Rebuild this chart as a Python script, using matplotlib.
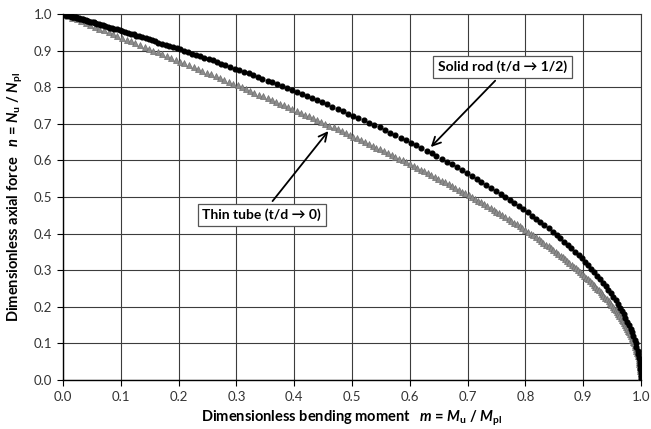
import numpy as np
import matplotlib
matplotlib.use('Agg')
import matplotlib.pyplot as plt

plt.rcParams['font.family'] = ['Lato', 'DejaVu Sans']
plt.rcParams['mathtext.fontset'] = 'custom'
plt.rcParams['mathtext.rm'] = 'Lato:bold'
plt.rcParams['mathtext.bf'] = 'Lato:bold'
plt.rcParams['mathtext.it'] = 'Lato:italic:bold'
plt.rcParams['mathtext.bfit'] = 'Lato:italic:bold'

# thin tube (t/d -> 0)
tube_m = [0.000, 0.008, 0.016, 0.024, 0.031, 0.039, 0.047, 0.055, 0.063, 0.071,
          0.079, 0.086, 0.094, 0.102, 0.110, 0.118, 0.125, 0.133, 0.141, 0.149,
          0.156, 0.164, 0.172, 0.180, 0.187, 0.195, 0.203, 0.210, 0.218, 0.226,
          0.233, 0.241, 0.249, 0.256, 0.264, 0.271, 0.279, 0.287, 0.294, 0.302,
          0.309, 0.316, 0.324, 0.331, 0.339, 0.346, 0.354, 0.361, 0.368, 0.375,
          0.383, 0.390, 0.397, 0.404, 0.412, 0.419, 0.426, 0.433, 0.440, 0.447,
          0.454, 0.461, 0.468, 0.475, 0.482, 0.489, 0.496, 0.502, 0.509, 0.516,
          0.523, 0.529, 0.536, 0.542, 0.549, 0.556, 0.562, 0.569, 0.575, 0.581,
          0.588, 0.594, 0.600, 0.607, 0.613, 0.619, 0.625, 0.631, 0.637, 0.643,
          0.649, 0.655, 0.661, 0.667, 0.673, 0.679, 0.685, 0.690, 0.696, 0.702,
          0.707, 0.713, 0.718, 0.724, 0.729, 0.734, 0.740, 0.745, 0.750, 0.755,
          0.760, 0.765, 0.771, 0.775, 0.780, 0.785, 0.790, 0.795, 0.800, 0.804,
          0.809, 0.814, 0.818, 0.823, 0.827, 0.831, 0.836, 0.840, 0.844, 0.848,
          0.853, 0.857, 0.861, 0.865, 0.869, 0.872, 0.876, 0.880, 0.884, 0.887,
          0.891, 0.895, 0.898, 0.901, 0.905, 0.908, 0.911, 0.915, 0.918, 0.921,
          0.924, 0.927, 0.930, 0.933, 0.935, 0.938, 0.941, 0.944, 0.946, 0.949,
          0.951, 0.953, 0.956, 0.958, 0.960, 0.962, 0.965, 0.967, 0.969, 0.971,
          0.972, 0.974, 0.976, 0.978, 0.979, 0.981, 0.982, 0.984, 0.985, 0.986,
          0.988, 0.989, 0.990, 0.991, 0.992, 0.993, 0.994, 0.995, 0.996, 0.996,
          0.997, 0.997, 0.998, 0.998, 0.999, 0.999, 1.000, 1.000, 1.000, 1.000,
          1.000]
tube_n = [1.000, 0.995, 0.990, 0.985, 0.980, 0.975, 0.970, 0.965, 0.960, 0.955,
          0.950, 0.945, 0.940, 0.935, 0.930, 0.925, 0.920, 0.915, 0.910, 0.905,
          0.900, 0.895, 0.890, 0.885, 0.880, 0.875, 0.870, 0.865, 0.860, 0.855,
          0.850, 0.845, 0.840, 0.835, 0.830, 0.825, 0.820, 0.815, 0.810, 0.805,
          0.800, 0.795, 0.790, 0.785, 0.780, 0.775, 0.770, 0.765, 0.760, 0.755,
          0.750, 0.745, 0.740, 0.735, 0.730, 0.725, 0.720, 0.715, 0.710, 0.705,
          0.700, 0.695, 0.690, 0.685, 0.680, 0.675, 0.670, 0.665, 0.660, 0.655,
          0.650, 0.645, 0.640, 0.635, 0.630, 0.625, 0.620, 0.615, 0.610, 0.605,
          0.600, 0.595, 0.590, 0.585, 0.580, 0.575, 0.570, 0.565, 0.560, 0.555,
          0.550, 0.545, 0.540, 0.535, 0.530, 0.525, 0.520, 0.515, 0.510, 0.505,
          0.500, 0.495, 0.490, 0.485, 0.480, 0.475, 0.470, 0.465, 0.460, 0.455,
          0.450, 0.445, 0.440, 0.435, 0.430, 0.425, 0.420, 0.415, 0.410, 0.405,
          0.400, 0.395, 0.390, 0.385, 0.380, 0.375, 0.370, 0.365, 0.360, 0.355,
          0.350, 0.345, 0.340, 0.335, 0.330, 0.325, 0.320, 0.315, 0.310, 0.305,
          0.300, 0.295, 0.290, 0.285, 0.280, 0.275, 0.270, 0.265, 0.260, 0.255,
          0.250, 0.245, 0.240, 0.235, 0.230, 0.225, 0.220, 0.215, 0.210, 0.205,
          0.200, 0.195, 0.190, 0.185, 0.180, 0.175, 0.170, 0.165, 0.160, 0.155,
          0.150, 0.145, 0.140, 0.135, 0.130, 0.125, 0.120, 0.115, 0.110, 0.105,
          0.100, 0.095, 0.090, 0.085, 0.080, 0.075, 0.070, 0.065, 0.060, 0.055,
          0.050, 0.045, 0.040, 0.035, 0.030, 0.025, 0.020, 0.015, 0.010, 0.005,
          0.000]

# solid rod (t/d -> 1/2)
rod_m = [0.000, 0.000, 0.000, 0.000, 0.000, 0.000, 0.000, 0.000, 0.000, 0.000,
         0.000, 0.001, 0.001, 0.001, 0.001, 0.002, 0.002, 0.002, 0.003, 0.003,
         0.004, 0.004, 0.005, 0.006, 0.007, 0.007, 0.008, 0.009, 0.010, 0.012,
         0.013, 0.014, 0.015, 0.017, 0.018, 0.020, 0.022, 0.024, 0.025, 0.027,
         0.030, 0.032, 0.034, 0.036, 0.039, 0.041, 0.044, 0.047, 0.050, 0.053,
         0.056, 0.059, 0.063, 0.066, 0.070, 0.073, 0.077, 0.081, 0.085, 0.089,
         0.094, 0.098, 0.102, 0.107, 0.112, 0.117, 0.122, 0.127, 0.132, 0.137,
         0.143, 0.148, 0.154, 0.160, 0.165, 0.171, 0.178, 0.184, 0.190, 0.197,
         0.203, 0.210, 0.216, 0.223, 0.230, 0.237, 0.244, 0.252, 0.259, 0.266,
         0.274, 0.281, 0.289, 0.297, 0.305, 0.313, 0.321, 0.329, 0.337, 0.345,
         0.354, 0.362, 0.370, 0.379, 0.387, 0.396, 0.405, 0.413, 0.422, 0.431,
         0.440, 0.448, 0.457, 0.466, 0.475, 0.484, 0.493, 0.502, 0.511, 0.520,
         0.529, 0.538, 0.548, 0.557, 0.566, 0.575, 0.584, 0.593, 0.602, 0.611,
         0.620, 0.629, 0.638, 0.646, 0.655, 0.664, 0.673, 0.682, 0.690, 0.699,
         0.707, 0.716, 0.724, 0.732, 0.741, 0.749, 0.757, 0.765, 0.773, 0.781,
         0.789, 0.796, 0.804, 0.811, 0.818, 0.826, 0.833, 0.840, 0.847, 0.854,
         0.860, 0.867, 0.873, 0.879, 0.886, 0.892, 0.898, 0.903, 0.909, 0.914,
         0.919, 0.924, 0.929, 0.934, 0.939, 0.943, 0.948, 0.952, 0.956, 0.960,
         0.964, 0.967, 0.970, 0.973, 0.976, 0.979, 0.982, 0.984, 0.987, 0.989,
         0.991, 0.992, 0.994, 0.995, 0.997, 0.998, 0.998, 0.999, 1.000, 1.000,
         1.000]
rod_n = [1.000, 1.000, 1.000, 1.000, 1.000, 1.000, 1.000, 1.000, 1.000, 1.000,
         1.000, 1.000, 1.000, 1.000, 0.999, 0.999, 0.999, 0.999, 0.999, 0.999,
         0.998, 0.998, 0.998, 0.998, 0.997, 0.997, 0.996, 0.996, 0.996, 0.995,
         0.995, 0.994, 0.993, 0.993, 0.992, 0.991, 0.991, 0.990, 0.989, 0.988,
         0.987, 0.986, 0.985, 0.984, 0.983, 0.982, 0.981, 0.979, 0.978, 0.977,
         0.975, 0.974, 0.972, 0.970, 0.969, 0.967, 0.965, 0.963, 0.962, 0.960,
         0.958, 0.955, 0.953, 0.951, 0.949, 0.946, 0.944, 0.941, 0.939, 0.936,
         0.934, 0.931, 0.928, 0.925, 0.922, 0.919, 0.916, 0.913, 0.910, 0.906,
         0.903, 0.899, 0.896, 0.892, 0.888, 0.885, 0.881, 0.877, 0.873, 0.869,
         0.864, 0.860, 0.856, 0.851, 0.847, 0.842, 0.838, 0.833, 0.828, 0.823,
         0.818, 0.813, 0.808, 0.803, 0.798, 0.792, 0.787, 0.781, 0.776, 0.770,
         0.764, 0.759, 0.753, 0.747, 0.741, 0.735, 0.728, 0.722, 0.716, 0.709,
         0.703, 0.696, 0.690, 0.683, 0.676, 0.669, 0.662, 0.655, 0.648, 0.641,
         0.634, 0.626, 0.619, 0.611, 0.604, 0.596, 0.589, 0.581, 0.573, 0.565,
         0.558, 0.550, 0.542, 0.533, 0.525, 0.517, 0.509, 0.500, 0.492, 0.484,
         0.475, 0.467, 0.458, 0.449, 0.441, 0.432, 0.423, 0.414, 0.405, 0.396,
         0.387, 0.378, 0.369, 0.360, 0.351, 0.341, 0.332, 0.323, 0.313, 0.304,
         0.295, 0.285, 0.276, 0.266, 0.256, 0.247, 0.237, 0.228, 0.218, 0.208,
         0.198, 0.189, 0.179, 0.169, 0.159, 0.149, 0.139, 0.130, 0.120, 0.110,
         0.100, 0.090, 0.080, 0.070, 0.060, 0.050, 0.040, 0.030, 0.020, 0.010,
         0.000]

ticks = [0.0, 0.1, 0.2, 0.3, 0.4, 0.5, 0.6, 0.7, 0.8, 0.9, 1.0]

fig = plt.figure(figsize=(6.51, 4.29), dpi=100)
ax = fig.add_axes([0.0968, 0.1142, 0.8878, 0.8532])

ax.plot(tube_m, tube_n, linestyle='none', marker='^', markersize=3.8,
        color='#8c8c8c', markeredgecolor='#6e6e6e', markeredgewidth=0.5, zorder=3)
ax.plot(rod_m, rod_n, linestyle='none', marker='o', markersize=3.4,
        color='black', zorder=4)

ax.set_xlim(0, 1)
ax.set_ylim(0, 1)
ax.set_xticks(ticks)
ax.set_yticks(ticks)
ax.set_xticklabels(['%.1f' % t for t in ticks])
ax.set_yticklabels(['%.1f' % t for t in ticks])
ax.grid(True, color='#3c3c3c', linewidth=0.8)
ax.set_axisbelow(True)
for s in ['top', 'right']:
    ax.spines[s].set_color('#3c3c3c')
    ax.spines[s].set_linewidth(0.8)
for s in ['left', 'bottom']:
    ax.spines[s].set_linewidth(1.0)
ax.tick_params(direction='out', length=4, width=0.8, labelsize=9.5,
               labelcolor='#333333', pad=4)

ax.set_xlabel(r'Dimensionless bending moment   $\mathit{m}$ = $\mathit{M}_\mathrm{u}$ / $\mathit{M}_\mathrm{pl}$',
              fontsize=10.5, fontweight='bold', labelpad=4)
ax.set_ylabel(r'Dimensionless axial force   $\mathit{n}$ = $\mathit{N}_\mathrm{u}$ / $\mathit{N}_\mathrm{pl}$',
              fontsize=10.5, fontweight='bold', labelpad=6)

box = dict(boxstyle='square,pad=0.35', facecolor='white', edgecolor='#555555', linewidth=0.9)
arrow = dict(arrowstyle='->,head_length=0.6,head_width=0.3', color='black', linewidth=1.3)

ax.annotate('Solid rod (t/d \u2192 1/2)', xy=(0.633, 0.631), xytext=(0.760, 0.855),
            ha='center', va='center', fontsize=10, fontweight='bold', bbox=box,
            arrowprops=dict(arrow, relpos=(0.5, 0.0)), zorder=5)
ax.annotate('Thin tube (t/d \u2192 0)', xy=(0.462, 0.686), xytext=(0.344, 0.451),
            ha='center', va='center', fontsize=10, fontweight='bold', bbox=box,
            arrowprops=dict(arrow, relpos=(0.54, 1.0)), zorder=5)

fig.savefig('out.png', dpi=100)
